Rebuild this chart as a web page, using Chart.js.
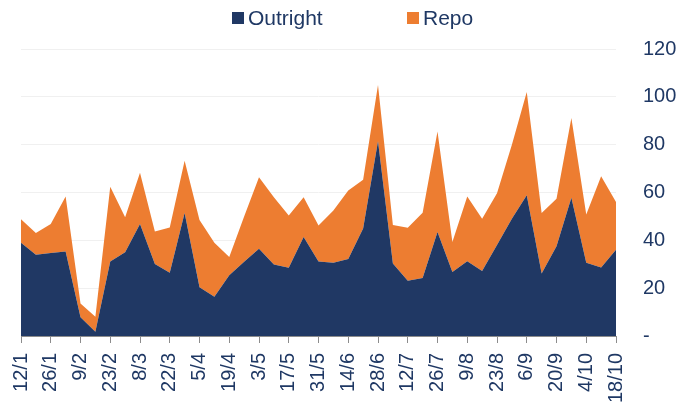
<!DOCTYPE html>
<html lang="en">
<head>
<meta charset="UTF-8">
<title>Outright vs Repo</title>
<script src="https://cdn.jsdelivr.net/npm/chart.js"></script>
<style>
    body {
        margin: 0;
        background: #fff;
        overflow: hidden;
        font-family: 'Liberation Sans', Arial, sans-serif;
    }
    #wrap {
        position: relative;
        width: 677px;
        height: 403px;
    }
    .item {
        position: absolute;
        top: 6px;
        display: flex;
        align-items: center;
        color: #1f3864;
        font-size: 21px;
        line-height: 24px;
    }
    .item .box {
        width: 12px;
        height: 12px;
        margin-right: 4px;
    }
</style>
</head>
<body>
<div id="wrap">
    <canvas id="chart" width="677" height="403"></canvas>
    <div class="item" id="lg0" style="left:232px"><span class="box"></span><span class="txt"></span></div>
    <div class="item" id="lg1" style="left:407px"><span class="box"></span><span class="txt"></span></div>
</div>

<script>
    // weekly dates, every second one labelled on the axis
    const weeks = ['12/1','19/1','26/1','2/2','9/2','16/2','23/2','1/3','8/3','15/3','22/3','29/3',
        '5/4','12/4','19/4','26/4','3/5','10/5','17/5','24/5','31/5','7/6','14/6','21/6','28/6',
        '5/7','12/7','19/7','26/7','2/8','9/8','16/8','23/8','30/8','6/9','13/9','20/9','27/9',
        '4/10','11/10','18/10'];

    const outright = [39, 34, 34.7, 35.3, 7.8, 1.8, 31.1, 35, 46.8, 30.1, 26.4, 51.4, 20.4, 16.4,
        25.4, 31, 36.5, 29.9, 28.5, 41.4, 31.1, 30.6, 32.2, 44.9, 81.4, 30.3, 23.1, 24.2, 43.5,
        26.8, 31.3, 27.2, 38, 49, 58.8, 26.1, 37.5, 57.8, 30.6, 28.6, 36.1];

    const repo = [9.8, 9.1, 12.1, 23, 5.8, 6.3, 31.3, 14.6, 21.5, 13.6, 19, 21.9, 28.1, 22.6,
        7.6, 19, 29.9, 28.1, 21.9, 16.6, 15.1, 21.9, 28.6, 20.4, 23.6, 16.1, 22.2, 27.3, 42,
        12.5, 27, 21.8, 21.7, 31, 43.2, 25.3, 19.9, 33.3, 20.2, 38.2, 19.9];

    const seriesNames = ['Outright', 'Repo'];
    const seriesColors = ['#203864', '#ed7d31'];
    const textColor = '#1f3864';

    seriesNames.forEach((name, i) => {
        const el = document.getElementById('lg' + i);
        el.querySelector('.box').style.background = seriesColors[i];
        el.querySelector('.txt').textContent = name;
    });

    Chart.defaults.font.family = "'Liberation Sans', Arial, sans-serif";

    const ctx = document.getElementById('chart').getContext('2d');
    new Chart(ctx, {
        type: 'line',
        data: {
            labels: weeks,
            datasets: [
                {
                    label: seriesNames[0],
                    data: outright,
                    backgroundColor: seriesColors[0],
                    borderWidth: 0,
                    pointRadius: 0,
                    fill: 'origin',
                    tension: 0
                },
                {
                    label: seriesNames[1],
                    data: repo,
                    backgroundColor: seriesColors[1],
                    borderWidth: 0,
                    pointRadius: 0,
                    fill: '-1',
                    tension: 0
                }
            ]
        },
        options: {
            responsive: false,
            animation: false,
            layout: { padding: { left: 21, top: 49, right: 0, bottom: 0 } },
            plugins: {
                legend: { display: false },
                tooltip: { enabled: false }
            },
            scales: {
                x: {
                    offset: false,
                    grid: {
                        drawOnChartArea: false,
                        tickLength: 7,
                        color: (c) => (c.index % 2 ? 'rgba(0,0,0,0)' : '#8c8c8c')
                    },
                    border: { color: '#8c8c8c' },
                    ticks: {
                        autoSkip: false,
                        minRotation: 90,
                        maxRotation: 90,
                        padding: 10,
                        color: textColor,
                        font: { size: 20 },
                        callback: (v, i) => (i % 2 === 0 ? weeks[i] : '')
                    },
                    afterFit: (s) => {
                        s.paddingLeft = 0;
                        s.paddingRight = 0;
                        s.height = 67;
                    }
                },
                y: {
                    position: 'right',
                    stacked: true,
                    min: 0,
                    max: 120,
                    ticks: {
                        stepSize: 20,
                        padding: 27,
                        color: textColor,
                        font: { size: 20 },
                        callback: (v) => (v === 0 ? '-' : v)
                    },
                    grid: { color: '#f0f0f0', drawTicks: false },
                    border: { display: false },
                    afterFit: (s) => { s.width = 61; }
                }
            }
        }
    });
</script>
</body>
</html>
